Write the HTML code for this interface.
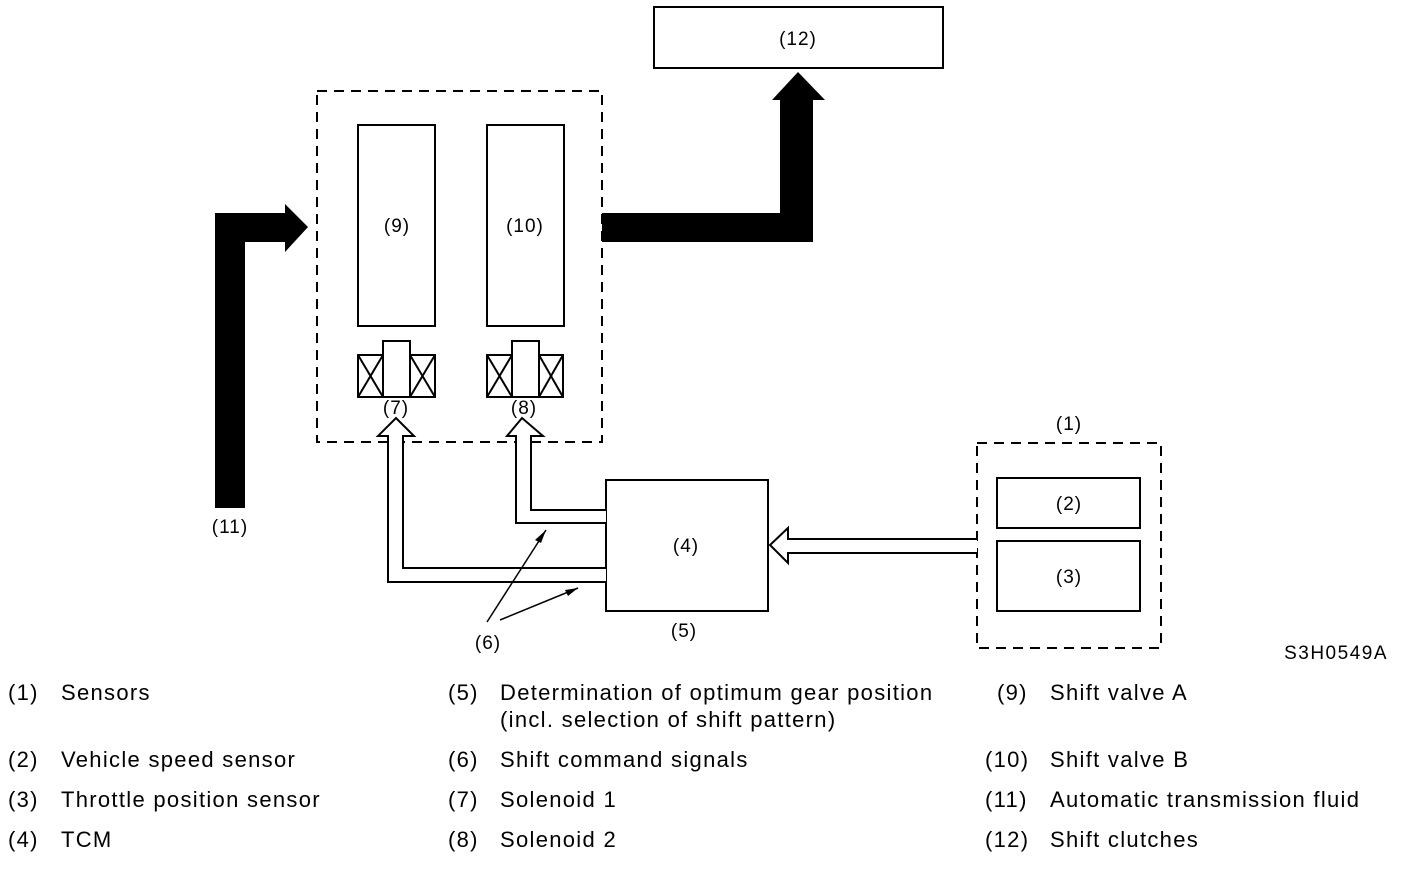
<!DOCTYPE html>
<html><head><meta charset="utf-8"><style>
body{margin:0;background:#fff;}
svg{display:block;}
text{font-family:"Liberation Sans",Arial,sans-serif;fill:#000;}
</style></head><body>
<svg width="1408" height="890" viewBox="0 0 1408 890" xmlns="http://www.w3.org/2000/svg">
<g fill="none" stroke="#000" stroke-width="2">
<rect x="654" y="7" width="289" height="61"/>
<rect x="317" y="91" width="285" height="351" stroke-dasharray="10,7"/>
<rect x="358" y="125" width="77" height="201"/>
<rect x="487" y="125" width="77" height="201"/>
<rect x="358" y="355" width="25" height="42"/><path d="M358 355L383 397M383 355L358 397"/>
<rect x="383" y="341" width="27" height="56"/>
<rect x="410" y="355" width="25" height="42"/><path d="M410 355L435 397M435 355L410 397"/>
<rect x="487" y="355" width="25" height="42"/><path d="M487 355L512 397M512 355L487 397"/>
<rect x="512" y="341" width="27" height="56"/>
<rect x="539" y="355" width="24" height="42"/><path d="M539 355L563 397M563 355L539 397"/>
<rect x="606" y="480" width="162" height="131"/>
<rect x="977" y="443" width="184" height="205" stroke-dasharray="10,7"/>
<rect x="997" y="478" width="143" height="50"/>
<rect x="997" y="541" width="143" height="70"/>
<path d="M606 582L388 582L388 436L378 436L396 418L414 436L403 436L403 568L606 568" fill="#fff"/>
<path d="M606 523L516 523L516 436L507 436L522 418L543 436L531 436L531 510L606 510" fill="#fff"/>
<path d="M977 539L788 539L788 528L770 545L788 563L788 553L977 553" fill="#fff"/>
<path d="M487 622L546 530M500 620L578 588" stroke-width="1.5"/>
</g>
<g fill="#000">
<path d="M546 530L535 540L541 543Z"/>
<path d="M578 588L565 590L568 596Z"/>
<path d="M215 508L215 213L285 213L285 204L308 227L285 252L285 242L245 242L245 508Z"/>
<path d="M602 213L780 213L780 100L772 100L798 72L825 100L813 100L813 242L602 242Z"/>
</g>
<g font-size="19" text-anchor="middle" letter-spacing="1">
<text x="798" y="45">(12)</text>
<text x="397" y="232">(9)</text>
<text x="525" y="232">(10)</text>
<text x="396" y="414">(7)</text>
<text x="524" y="414">(8)</text>
<text x="230" y="533">(11)</text>
<text x="686" y="552">(4)</text>
<text x="684" y="637">(5)</text>
<text x="488" y="649">(6)</text>
<text x="1069" y="430">(1)</text>
<text x="1069" y="510">(2)</text>
<text x="1069" y="583">(3)</text>
</g>
<text x="1388" y="659" font-size="19" text-anchor="end" letter-spacing="1.5">S3H0549A</text>
<g font-size="22" letter-spacing="1.3">
<text x="8" y="700">(1)</text><text x="61" y="700">Sensors</text>
<text x="8" y="767">(2)</text><text x="61" y="767">Vehicle speed sensor</text>
<text x="8" y="807">(3)</text><text x="61" y="807">Throttle position sensor</text>
<text x="8" y="847">(4)</text><text x="61" y="847">TCM</text>
<text x="448" y="700">(5)</text><text x="500" y="700">Determination of optimum gear position</text>
<text x="500" y="727">(incl. selection of shift pattern)</text>
<text x="448" y="767">(6)</text><text x="500" y="767">Shift command signals</text>
<text x="448" y="807">(7)</text><text x="500" y="807">Solenoid 1</text>
<text x="448" y="847">(8)</text><text x="500" y="847">Solenoid 2</text>
<text x="997" y="700">(9)</text><text x="1050" y="700">Shift valve A</text>
<text x="985" y="767">(10)</text><text x="1050" y="767">Shift valve B</text>
<text x="985" y="807">(11)</text><text x="1050" y="807">Automatic transmission fluid</text>
<text x="985" y="847">(12)</text><text x="1050" y="847">Shift clutches</text>
</g>
</svg>
</body></html>
